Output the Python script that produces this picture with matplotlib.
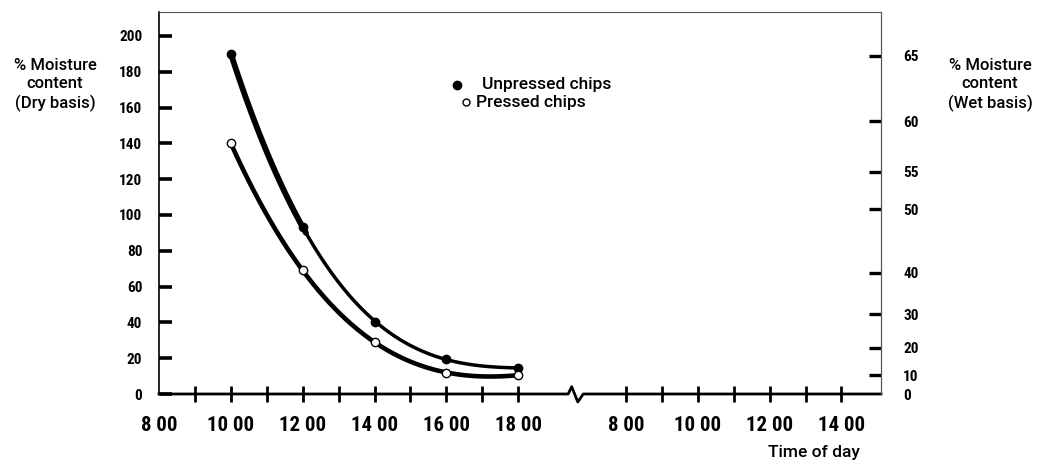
import numpy as np
import matplotlib.pyplot as plt

# x positions are hours after 8 00 on day 1; day 2 8 00 sits at 13 on the axis
hours = [2, 4, 6, 8, 10]
unpressed = [190, 93.5, 40.5, 19.5, 14.5]
pressed = [140, 69, 29, 12, 10.5]

xtick_pos = [0, 2, 4, 6, 8, 10, 13, 15, 17, 19]
xtick_lab = ['8 00', '10 00', '12 00', '14 00', '16 00', '18 00',
             '8 00', '10 00', '12 00', '14 00']
xminor_pos = [1, 3, 5, 7, 9, 14, 16, 18]

dry_ticks = [0, 20, 40, 60, 80, 100, 120, 140, 160, 180, 200]
wet_ticks = [0, 10, 20, 30, 40, 50, 55, 60, 65]
# where the wet-basis ticks sit on the dry-basis scale
wet_on_dry = [0, 10.6, 25.9, 44.5, 67.7, 103.2, 124.2, 152.5, 188.9]

narrow = ['Roboto Condensed', 'Liberation Sans Narrow', 'DejaVu Sans']
plain = ['Roboto', 'Liberation Sans', 'DejaVu Sans']

fig = plt.figure(figsize=(10.49, 4.62), dpi=100)
ax = fig.add_axes([159 / 1049, 68 / 462, 722 / 1049, 382 / 462])
ax.set_xlim(0, 20.1)
ax.set_ylim(0, 213.4)

# smooth trend curves through the readings
t = np.linspace(2, 10, 200)
cu = np.polyval(np.polyfit(hours, unpressed, 3), t)
cp = np.polyval(np.polyfit(hours, pressed, 3), t)
ax.plot(t[t <= 4.1], cu[t <= 4.1], color='black', lw=4.2, solid_capstyle='round')
ax.plot(t[t >= 4], cu[t >= 4], color='black', lw=2.5, solid_capstyle='round')
ax.plot(t, cp, color='black', lw=3.3, solid_capstyle='round')
ax.plot(hours, unpressed, 'o', color='black', ms=6, zorder=5)
ax.plot(hours, pressed, 'o', mfc='white', mec='black', mew=1, ms=6, zorder=5)

# frame
ax.spines['bottom'].set_visible(False)
ax.spines['left'].set_linewidth(1.2)
for s in ['top', 'right']:
    ax.spines[s].set_linewidth(0.8)
    ax.spines[s].set_color('#555555')

# bottom axis with a break between the two days
ax.plot([0, 11.39, 11.49, 11.66, 11.81, 20.1], [0, 0, 0.019, -0.021, 0, 0],
        transform=ax.get_xaxis_transform(), color='black', lw=2.0,
        clip_on=False, zorder=4)

ax.set_xticks(xtick_pos)
ax.set_xticklabels(xtick_lab, fontfamily=narrow, fontweight='bold',
                   fontstretch='condensed', fontsize=15)
ax.set_xticks(xminor_pos, minor=True)
ax.tick_params(axis='x', which='both', direction='inout', length=11, width=2,
               pad=10.5)
ax.xaxis.get_major_ticks()[0].tick1line.set_visible(False)

ax.set_yticks(dry_ticks)
ax.set_yticklabels([str(v) for v in dry_ticks], fontfamily=narrow,
                   fontweight='bold', fontstretch='condensed', fontsize=11)
ax.tick_params(axis='y', direction='in', length=9, width=2.6, pad=12)

ax2 = ax.twinx()
ax2.set_ylim(ax.get_ylim())
ax2.set_yticks(wet_on_dry)
ax2.set_yticklabels([str(v) for v in wet_ticks], fontfamily=narrow,
                    fontweight='bold', fontstretch='condensed', fontsize=11)
ax2.tick_params(axis='y', direction='in', length=9, width=2.4, pad=16)
ax2.yaxis.get_major_ticks()[0].tick2line.set_visible(False)
for s in ['top', 'bottom', 'left']:
    ax2.spines[s].set_visible(False)
ax2.spines['right'].set_linewidth(0.8)
ax2.spines['right'].set_color('#555555')

# axis titles
fig.text(55 / 1049, 1 - 85 / 462, '% Moisture\ncontent\n(Dry basis)',
         ha='center', va='center', multialignment='center', linespacing=1.25,
         fontfamily=plain, fontweight='medium', fontsize=12)
fig.text(990 / 1049, 1 - 85 / 462, '% Moisture\ncontent\n(Wet basis)',
         ha='center', va='center', multialignment='center', linespacing=1.25,
         fontfamily=plain, fontweight='medium', fontsize=12)
fig.text(814 / 1049, 1 - 452 / 462, 'Time of day', ha='center', va='center',
         fontfamily=plain, fontweight='medium', fontsize=12.5)

# key
fig.lines.append(plt.Line2D([457 / 1049], [1 - 85 / 462], marker='o', color='black',
                            ms=6, transform=fig.transFigure))
fig.lines.append(plt.Line2D([466 / 1049], [1 - 102 / 462], marker='o', mfc='white',
                            mec='black', mew=1, ms=5, transform=fig.transFigure))
fig.text(482 / 1049, 1 - 85 / 462, 'Unpressed chips', ha='left', va='center',
         fontfamily=plain, fontweight='medium', fontsize=12.5)
fig.text(476 / 1049, 1 - 102 / 462, 'Pressed chips', ha='left', va='center',
         fontfamily=plain, fontweight='medium', fontsize=12.5)

fig.savefig('out.png', dpi=100)
